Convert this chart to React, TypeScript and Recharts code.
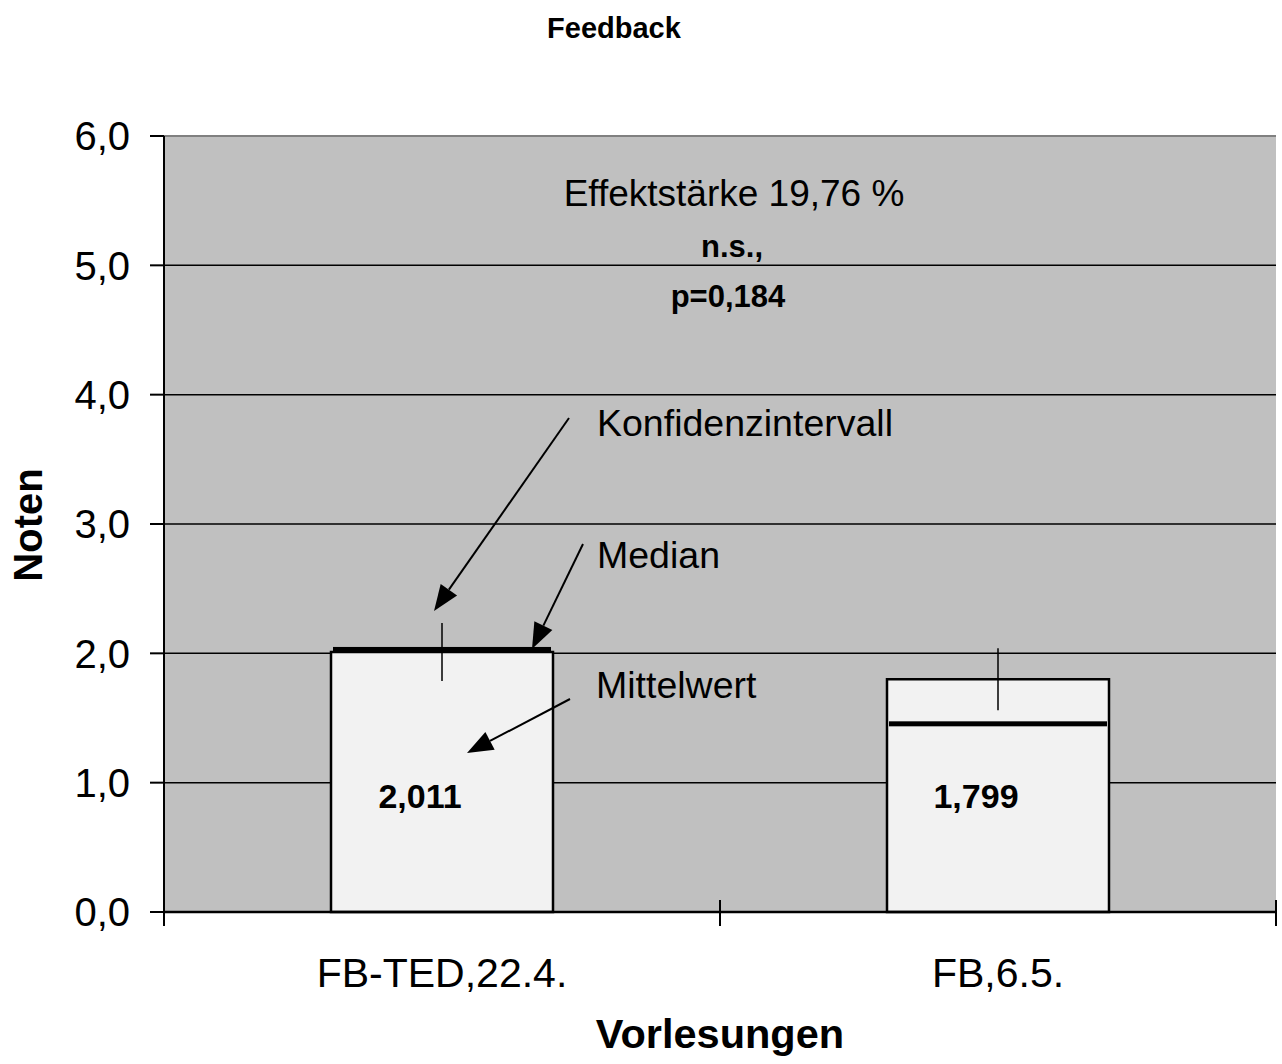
import {
  Bar,
  CartesianGrid,
  ComposedChart,
  ErrorBar,
  LabelList,
  Line,
  ReferenceLine,
  XAxis,
  YAxis,
} from 'recharts'

const lectures = ['FB-TED,22.4.', 'FB,6.5.']
const means = [2.011, 1.799]
const medians = [2.03, 1.455]
const ciLow = [1.786, 1.56]
const ciHigh = [2.235, 2.04]
const yTicks = [0, 1, 2, 3, 4, 5, 6]

const data = lectures.map((name, i) => ({
  name,
  mean: means[i],
  median: medians[i],
  ci: [means[i] - ciLow[i], ciHigh[i] - means[i]],
}))

const FONT = '"Liberation Sans", Arial, sans-serif'
const TICK_MARGIN = 45
const deNum = (v: number, d: number) => v.toFixed(d).replace('.', ',')

function MedianMark(props: any) {
  const { cx, cy, index } = props
  if (cx == null || cy == null) return <g key={index} />
  return <rect key={index} x={cx - 109} y={cy - 2.5} width={218} height={5} fill="#000" />
}

// value printed near the bottom of each bar
function MeanLabel(props: any) {
  const { x, y, width, height, value } = props
  return (
    <text
      x={x + width / 2 - 22}
      y={y + height - 104}
      textAnchor="middle"
      fontFamily={FONT}
      fontWeight="bold"
      fontSize={34}
      fill="#000"
    >
      {deNum(Number(value), 3)}
    </text>
  )
}

// category label, plus tick marks on the category boundaries
function CategoryTick(props: any) {
  const { x, y, payload, index, width, visibleTicksCount } = props
  const count = visibleTicksCount || lectures.length
  const half = width ? width / count / 2 : 278
  const axisY = y - TICK_MARGIN
  const marks = index === 0 ? [x - half, x + half] : [x + half]
  return (
    <g>
      {marks.map((mx) => (
        <line key={mx} x1={mx} y1={axisY - 13} x2={mx} y2={axisY + 13} stroke="#000" strokeWidth={2} />
      ))}
      <text x={x} y={y} dy="0.71em" textAnchor="middle" fontFamily={FONT} fontSize={41} fill="#000">
        {payload.value}
      </text>
    </g>
  )
}

function Arrow({ x1, y1, x2, y2 }: { x1: number; y1: number; x2: number; y2: number }) {
  const dx = x2 - x1
  const dy = y2 - y1
  const len = Math.sqrt(dx * dx + dy * dy)
  const ux = dx / len
  const uy = dy / len
  const head = 26
  const half = 10
  const bx = x2 - ux * head
  const by = y2 - uy * head
  const pts = `${x2},${y2} ${bx - uy * half},${by + ux * half} ${bx + uy * half},${by - ux * half}`
  return (
    <g>
      <line x1={x1} y1={y1} x2={bx} y2={by} stroke="#000" strokeWidth={2} />
      <polygon points={pts} fill="#000" />
    </g>
  )
}

export default function App() {
  return (
    <div style={{ position: 'absolute', left: 0, top: 0, width: 1282, height: 1064, background: '#fff' }}>
      <ComposedChart
        width={1282}
        height={1064}
        data={data}
        margin={{ top: 136, right: 6, bottom: 0, left: 0 }}
        barSize={222}
      >
        <CartesianGrid
          vertical={false}
          stroke="#000"
          strokeWidth={1.5}
          fill="#c0c0c0"
          fillOpacity={1}
        />
        <XAxis
          xAxisId="b_cat"
          dataKey="name"
          height={151}
          axisLine={false}
          tickLine={false}
          tickSize={0}
          tickMargin={TICK_MARGIN}
          interval={0}
          tick={CategoryTick}
        />
        <XAxis
          xAxisId="a_edges"
          type="number"
          scale="linear"
          domain={[0, 2]}
          height={1}
          tick={false}
          tickLine={false}
          axisLine={{ stroke: '#000', strokeWidth: 2.5 }}
        />
        <YAxis
          domain={[0, 6]}
          ticks={yTicks}
          width={164}
          tickSize={14}
          tickMargin={20}
          tickFormatter={(v) => deNum(Number(v), 1)}
          tick={{ fill: '#000', fontSize: 40, fontFamily: FONT }}
          tickLine={{ stroke: '#000', strokeWidth: 2 }}
          axisLine={{ stroke: '#000', strokeWidth: 2 }}
        />
        <ReferenceLine xAxisId="a_edges" y={6} stroke="#808080" strokeWidth={2} />
        <ReferenceLine xAxisId="a_edges" x={2} stroke="#808080" strokeWidth={2} />
        <Bar
          xAxisId="b_cat"
          dataKey="mean"
          fill="#f2f2f2"
          stroke="#000"
          strokeWidth={2.5}
          isAnimationActive={false}
        >
          <ErrorBar dataKey="ci" width={0} stroke="#000" strokeWidth={1.5} direction="y" />
          <LabelList dataKey="mean" content={MeanLabel} />
        </Bar>
        <Line
          xAxisId="b_cat"
          dataKey="median"
          stroke="none"
          dot={MedianMark}
          activeDot={false}
          isAnimationActive={false}
        />
      </ComposedChart>
      <svg
        width={1282}
        height={1064}
        style={{ position: 'absolute', left: 0, top: 0, pointerEvents: 'none' }}
        fontFamily={FONT}
      >
        <text x={614} y={38} textAnchor="middle" fontWeight="bold" fontSize={29}>Feedback</text>
        <text
          transform="translate(42,525) rotate(-90)"
          textAnchor="middle"
          fontWeight="bold"
          fontSize={40}
        >
          Noten
        </text>
        <text x={720} y={1048} textAnchor="middle" fontWeight="bold" fontSize={41.5}>Vorlesungen</text>
        <text x={734} y={206} textAnchor="middle" fontSize={37}>Effektstärke 19,76 %</text>
        <text x={732} y={257} textAnchor="middle" fontWeight="bold" fontSize={31}>n.s.,</text>
        <text x={728} y={307} textAnchor="middle" fontWeight="bold" fontSize={31}>p=0,184</text>
        <text x={597} y={436} fontSize={37.5}>Konfidenzintervall</text>
        <text x={597} y={568} fontSize={37.5}>Median</text>
        <text x={596} y={698} fontSize={37.5}>Mittelwert</text>
        <Arrow x1={569} y1={418} x2={434} y2={611} />
        <Arrow x1={583} y1={544} x2={532} y2={649} />
        <Arrow x1={570} y1={699} x2={467} y2={753} />
      </svg>
    </div>
  )
}
